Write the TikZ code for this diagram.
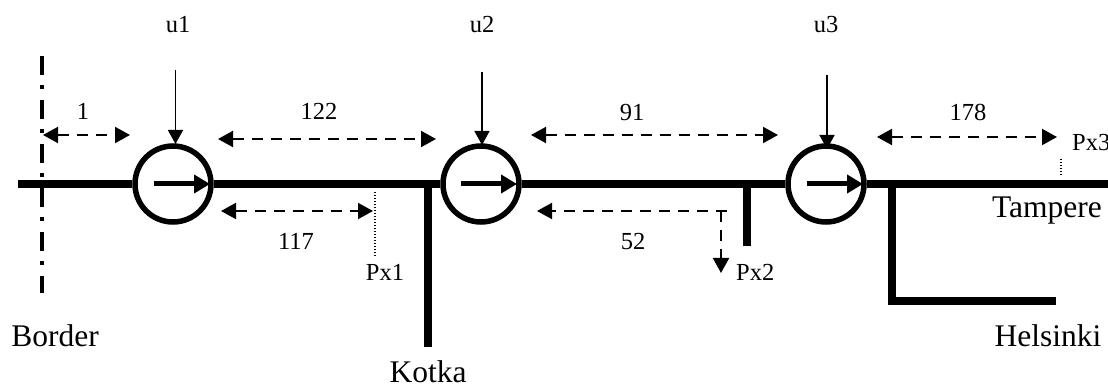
\documentclass[tikz,border=0pt]{standalone}
\usepackage{fontspec}
\setmainfont{Liberation Serif}
\usetikzlibrary{arrows.meta}
\tikzset{
  x=1pt,y=-1pt,
  pipe/.style={line width=8.5pt,line join=miter},
  station/.style={circle,draw,line width=5.5pt,minimum size=76pt,inner sep=0pt,fill=white},
  flow/.style={line width=5pt,-{Triangle[length=16pt,width=18pt]}},
  inflow/.style={line width=1.5pt,-{Triangle[length=14pt,width=15pt]}},
  span/.style={line width=2pt,dash pattern=on 11pt off 8pt,{Triangle[length=15pt,width=16pt]}-{Triangle[length=15pt,width=16pt]}},
  spanone/.style={line width=2pt,dash pattern=on 11pt off 8pt,-{Triangle[length=15pt,width=16pt]}},
  tap/.style={line width=1.2pt,dash pattern=on 1.5pt off 1.5pt},
  border/.style={line width=4pt,dash pattern=on 19pt off 10pt on 4pt off 11pt},
  small/.style={font=\fontsize{24.5}{26}\selectfont,anchor=base,inner sep=0pt},
  big/.style={font=\fontsize{31.5}{34}\selectfont,anchor=base,inner sep=0pt},
}
\begin{document}
\begin{tikzpicture}
\useasboundingbox (0,0) rectangle (1108,387);
% stations
\node[station] (c1) at (173,184) {};
\node[station] (c2) at (481,184) {};
\node[station] (c3) at (826,184) {};
% main line
\coordinate (lineL) at (18,184);
\coordinate (lineR) at (1108,184);
\draw[pipe] (lineL) -- (c1);
\draw[pipe] (c1) -- (c2);
\draw[pipe] (c2) -- (c3);
\draw[pipe] (c3) -- (lineR);
% branches
\coordinate (kTop) at (428,180);
\coordinate (kEnd) at (428,347);
\draw[pipe] (kTop) -- (kEnd);
\coordinate (sTop) at (747,184);
\coordinate (sEnd) at (747,246);
\draw[pipe] (sTop) -- (sEnd);
\coordinate (hTop) at (892,184);
\coordinate (hCorner) at (892,301);
\coordinate (hEnd) at (1056,301);
\draw[pipe] (hTop) -- (hCorner) -- (hEnd);
% flow arrows in stations
\coordinate (f1s) at (154,184); \coordinate (f1e) at (210,184);
\coordinate (f2s) at (461,184); \coordinate (f2e) at (517,184);
\coordinate (f3s) at (807,184); \coordinate (f3e) at (863,184);
\draw[flow] (f1s) -- (f1e);
\draw[flow] (f2s) -- (f2e);
\draw[flow] (f3s) -- (f3e);
% border
\coordinate (bTop) at (42,56);
\coordinate (bEnd) at (42,293);
\draw[border] (bTop) -- (bEnd);
% inputs
\node[small] (u1) at (178,33) {u1};
\node[small] (u2) at (482,33) {u2};
\node[small] (u3) at (826,33) {u3};
\coordinate (i1s) at (175.5,70); \coordinate (i1e) at (175.5,144);
\coordinate (i2s) at (482,72);   \coordinate (i2e) at (482,145);
\coordinate (i3s) at (827,75);   \coordinate (i3e) at (827,149);
\draw[inflow] (i1s) -- (i1e);
\draw[inflow] (i2s) -- (i2e);
\draw[inflow] (i3s) -- (i3e);
% distances
\coordinate (d1a) at (43,135);  \coordinate (d1b) at (130,135);
\coordinate (d2a) at (218,139); \coordinate (d2b) at (436,139);
\coordinate (d3a) at (221,211); \coordinate (d3b) at (373,211);
\coordinate (d4a) at (531,135); \coordinate (d4b) at (778,135);
\coordinate (d5a) at (877,137); \coordinate (d5b) at (1057,137);
\draw[span] (d1a) -- (d1b);
\draw[span] (d2a) -- (d2b);
\draw[span] (d3a) -- (d3b);
\draw[span] (d4a) -- (d4b);
\draw[span] (d5a) -- (d5b);
\coordinate (d6a) at (727,211); \coordinate (d6b) at (537,211);
\draw[spanone] (d6a) -- (d6b);
\coordinate (p2a) at (721,211); \coordinate (p2b) at (721,273);
\draw[spanone] (p2a) -- (p2b);
% dotted taps
\coordinate (t1a) at (375,192); \coordinate (t1b) at (375,257);
\coordinate (t3a) at (1061,159); \coordinate (t3b) at (1061,177);
\draw[tap] (t1a) -- (t1b);
\draw[tap] (t3a) -- (t3b);
% labels
\node[small] (l1) at (83,120) {1};
\node[small] (l122) at (319,120) {122};
\node[small] (l117) at (296,250) {117};
\node[small] (l91) at (632,121) {91};
\node[small] (l52) at (633,250) {52};
\node[small] (l178) at (968,121) {178};
\node[small] (px1) at (385,280) {Px1};
\node[small,anchor=base west] (px2) at (736,280) {Px2};
\node[small,anchor=base west] (px3) at (1072,151) {Px3};
\node[big] (border) at (55,346) {Border};
\node[big] (kotka) at (428,382) {Kotka};
\node[big] (tampere) at (1047,218) {Tampere};
\node[big] (helsinki) at (1048,346) {Helsinki};
\end{tikzpicture}
\end{document}
